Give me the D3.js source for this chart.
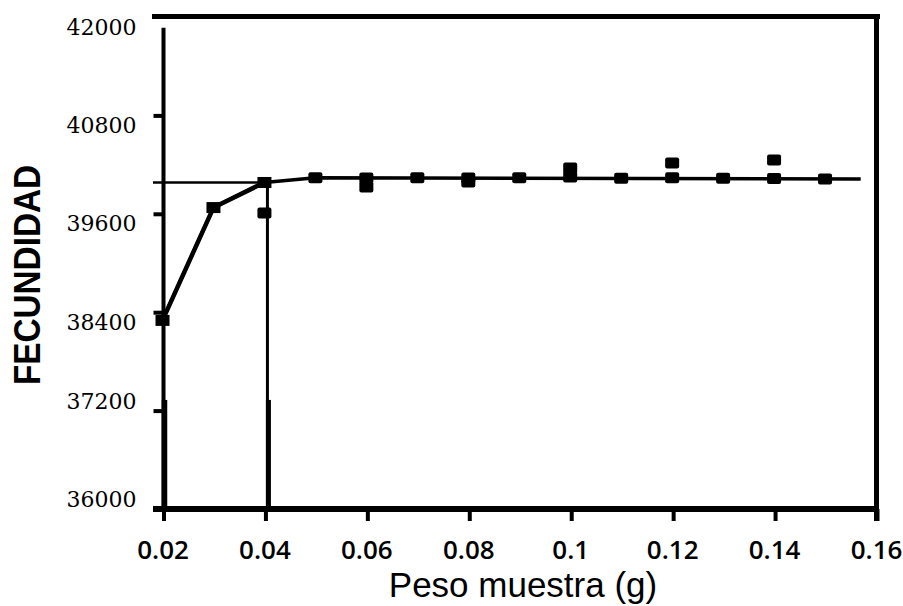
<!DOCTYPE html>
<html>
<head>
<meta charset="utf-8">
<script src="https://cdn.jsdelivr.net/npm/d3@7"></script>
<style>
  html, body { margin: 0; padding: 0; background: #fff; }
  svg { display: block; }
</style>
</head>
<body>
<svg id="chart" width="903" height="606"></svg>
<script>
// ---- data ----
const xTicks = [0.02, 0.04, 0.06, 0.08, 0.1, 0.12, 0.14, 0.16];
const yTicks = [36000, 37200, 38400, 39600, 40800, 42000];
// fitted curve (connected squares, then plateau)
const curveX = [0.02, 0.03, 0.04, 0.05, 0.157];
const curveY = [38300, 39676, 39982, 40040, 40025];
// markers drawn on the curve
const curveMarkX = [0.02, 0.03, 0.04];
const curveMarkY = [38300, 39676, 39982];
// observed samples
const obsX = [0.04, 0.05, 0.06, 0.06, 0.07, 0.08, 0.08, 0.09, 0.1, 0.1, 0.11, 0.12, 0.12, 0.13, 0.14, 0.14, 0.15];
const obsY = [39609, 40040, 40037, 39927, 40040, 40037, 39988, 40040, 40159, 40049, 40035, 40220, 40040, 40035, 40257, 40030, 40025];
// reference lines
const refLevel = 39982;   // horizontal line
const refX = 0.04;        // vertical line
const xLabel = "Peso muestra (g)";
const yLabel = "FECUNDIDAD";

// ---- scales ----
const svg = d3.select("#chart");
const x = d3.scaleLinear().domain([0.02, 0.16]).range([162.5, 876]);
const y = d3.scaleLinear().domain([36000, 42000]).range([509, 17]);

const g = svg.append("g");

// top border
g.append("line").attr("x1", 152).attr("x2", 880).attr("y1", y(42000) - 0.5).attr("y2", y(42000) - 0.5)
  .attr("stroke", "#000").attr("stroke-width", 5);
// right border
g.append("line").attr("x1", x(0.16) + 0.5).attr("x2", x(0.16) + 0.5).attr("y1", 14).attr("y2", 521)
  .attr("stroke", "#000").attr("stroke-width", 5);
// left axis line
g.append("line").attr("x1", x(0.02) + 1).attr("x2", x(0.02) + 1).attr("y1", y(41870)).attr("y2", y(36000))
  .attr("stroke", "#000").attr("stroke-width", 4);
g.append("line").attr("x1", x(0.02) + 2).attr("x2", x(0.02) + 2).attr("y1", y(37330)).attr("y2", y(36000))
  .attr("stroke", "#000").attr("stroke-width", 5.5);
// vertical reference line at 0.04
g.append("line").attr("x1", x(refX) + 3).attr("x2", x(refX) + 3).attr("y1", y(refLevel)).attr("y2", y(36000))
  .attr("stroke", "#000").attr("stroke-width", 3);
g.append("line").attr("x1", x(refX) + 4).attr("x2", x(refX) + 4).attr("y1", y(37330)).attr("y2", y(36000))
  .attr("stroke", "#000").attr("stroke-width", 5);
// horizontal reference line
g.append("line").attr("x1", 153).attr("x2", x(refX)).attr("y1", y(refLevel)).attr("y2", y(refLevel))
  .attr("stroke", "#000").attr("stroke-width", 2.5);

// bottom axis
g.append("line").attr("x1", 153).attr("x2", x(0.16) + 3).attr("y1", y(36000)).attr("y2", y(36000))
  .attr("stroke", "#000").attr("stroke-width", 6);
const xAxis = d3.axisBottom(x).tickValues(xTicks).tickSize(12).tickFormat(d3.format("~g"));
const xa = g.append("g").attr("transform", `translate(0,${y(36000)})`).call(xAxis);
xa.select(".domain").remove();
xa.selectAll(".tick line").attr("stroke", "#000").attr("stroke-width", 4).attr("x1", 1).attr("x2", 1);
xa.selectAll(".tick text")
  .attr("y", 50).attr("dy", 0)
  .attr("fill", "#000")
  .style("font-family", "'Open Sans', sans-serif")
  .style("font-weight", 600)
  .style("font-size", "26px");

// left axis ticks & labels
const yAxis = d3.axisLeft(y).tickValues(yTicks).tickSize(9).tickFormat(d3.format("d"));
const ya = g.append("g").attr("transform", `translate(${x(0.02)},0)`).call(yAxis);
ya.select(".domain").remove();
ya.selectAll(".tick line").attr("stroke", "#000").attr("stroke-width", 4)
  .attr("display", d => d === 42000 ? "none" : null);
ya.selectAll(".tick text")
  .attr("x", -26)
  .attr("dy", d => d <= 37200 ? "-2.5" : "17")
  .attr("fill", "#000")
  .style("font-family", "'DejaVu Serif', serif")
  .style("font-size", "22px");

// curve
const line = d3.line().x(d => x(d[0])).y(d => y(d[1]));
g.append("path").datum(curveX.map((v, i) => [v, curveY[i]]))
  .attr("d", line).attr("fill", "none").attr("stroke", "#000").attr("stroke-width", 3.5)
  .attr("stroke-linejoin", "round");
g.append("path").datum(curveX.slice(0, 3).map((v, i) => [v, curveY[i]]))
  .attr("d", line).attr("fill", "none").attr("stroke", "#000").attr("stroke-width", 4.5)
  .attr("stroke-linejoin", "round");

// markers
const mw = 14, mh = 11;
g.selectAll("rect.cm").data(curveMarkX.map((v, i) => [v, curveMarkY[i]])).enter().append("rect")
  .attr("class", "cm")
  .attr("x", d => x(d[0]) - mw / 2).attr("y", d => y(d[1]) - mh / 2)
  .attr("width", mw).attr("height", mh).attr("fill", "#000");
g.selectAll("rect.ob").data(obsX.map((v, i) => [v, obsY[i]])).enter().append("rect")
  .attr("class", "ob")
  .attr("x", d => x(d[0]) - mw / 2).attr("y", d => y(d[1]) - mh / 2)
  .attr("width", mw).attr("height", mh).attr("rx", 2).attr("fill", "#000");

// axis titles
svg.append("text").attr("x", 523).attr("y", 597).attr("text-anchor", "middle")
  .style("font-family", "'Liberation Sans', Arial, sans-serif").style("font-size", "35px")
  .attr("fill", "#000").text(xLabel);
svg.append("text").attr("transform", "translate(40,275) rotate(-90)").attr("text-anchor", "middle")
  .style("font-family", "'Liberation Sans', Arial, sans-serif").style("font-size", "36px")
  .style("font-weight", "bold")
  .attr("textLength", 220).attr("lengthAdjust", "spacingAndGlyphs")
  .attr("fill", "#000").text(yLabel);
</script>
</body>
</html>
